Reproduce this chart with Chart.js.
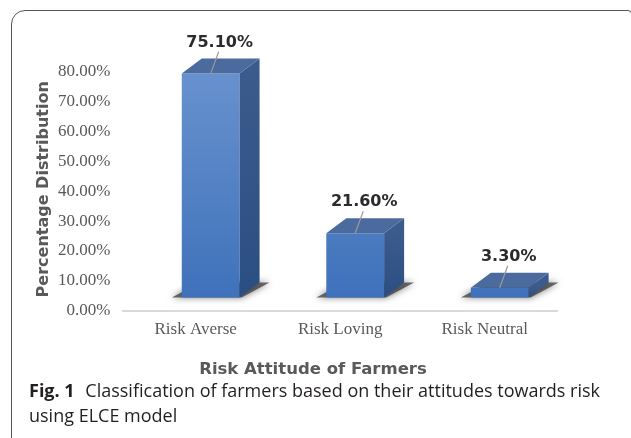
<!DOCTYPE html>
<html>
<head>
<meta charset="utf-8">
<script src="https://cdn.jsdelivr.net/npm/chart.js@4/dist/chart.umd.min.js"></script>
<style>
  html, body { margin: 0; padding: 0; background: #fff; }
  body { width: 631px; height: 438px; position: relative; overflow: hidden; }
  .frame {
    position: absolute; left: 11px; top: 10px; width: 621px; height: 440px;
    border: 1.5px solid #555; border-top-left-radius: 14px; border-top-right-radius: 4px;
    box-sizing: border-box;
  }
  #wrap { position: absolute; left: 0; top: 0; width: 631px; height: 385px; }
  .caption {
    position: absolute; left: 29px; top: 378px; width: 592px;
    font-family: "Open Sans", "Noto Sans", sans-serif; font-size: 18px; line-height: 25px;
    color: #231f20; letter-spacing: 0;
  }
  .caption b { font-weight: 700; margin-right: 6px; }
</style>
</head>
<body>
<div class="frame"></div>
<div id="wrap"><canvas id="riskChart"></canvas></div>
<div class="caption"><b>Fig. 1</b> Classification of farmers based on their attitudes towards risk using ELCE model</div>
<script>
// Risk attitude of farmers
const categories = ['Risk Averse', 'Risk Loving', 'Risk Neutral'];
const shares = [75.10, 21.60, 3.30];
const yTicks = [0, 10, 20, 30, 40, 50, 60, 70, 80];

// fake 3D look: shift, depth faces, floor shadow, labels with leader lines
const bars3d = {
  id: 'bars3d',
  beforeDatasetsDraw(chart) {
    const c = chart.ctx;
    const meta = chart.getDatasetMeta(0);
    c.save();
    c.translate(15, -13);
    meta.data.forEach(bar => {
      const x0 = bar.x - bar.width / 2, x1 = bar.x + bar.width / 2, yb = bar.base;
      c.save();
      c.shadowColor = 'rgba(0,0,0,0.7)';
      c.shadowBlur = 7;
      c.fillStyle = 'rgba(60,60,60,0.75)';
      c.beginPath();
      c.moveTo(x0 - 10, yb);
      c.lineTo(x1 + 2, yb);
      c.lineTo(x1 + 30, yb - 15);
      c.lineTo(x0 + 18, yb - 15);
      c.closePath();
      c.fill();
      c.restore();
    });
  },
  afterDatasetsDraw(chart) {
    const c = chart.ctx;
    const meta = chart.getDatasetMeta(0);
    const dx = 20, dy = -15;
    meta.data.forEach((bar, i) => {
      const x0 = bar.x - bar.width / 2, x1 = bar.x + bar.width / 2;
      const yt = bar.y, yb = bar.base;
      // right face
      let g = c.createLinearGradient(0, yt, 0, yb);
      g.addColorStop(0, '#3b5b8c');
      g.addColorStop(1, '#2b4e82');
      c.fillStyle = g;
      c.beginPath();
      c.moveTo(x1, yt);
      c.lineTo(x1 + dx, yt + dy);
      c.lineTo(x1 + dx, yb + dy);
      c.lineTo(x1, yb);
      c.closePath();
      c.fill();
      // top face
      c.fillStyle = '#4b6a9d';
      c.beginPath();
      c.moveTo(x0, yt);
      c.lineTo(x1, yt);
      c.lineTo(x1 + dx, yt + dy);
      c.lineTo(x0 + dx, yt + dy);
      c.closePath();
      c.fill();
      // label + leader line
      const lx = bar.x + 9, ly = yt + dy - 16;
      c.strokeStyle = '#9a9a9a';
      c.lineWidth = 1.2;
      c.beginPath();
      c.moveTo(bar.x, yt);
      c.lineTo(lx - 1, ly + 9);
      c.stroke();
      c.fillStyle = '#2b2b2b';
      c.font = 'bold 16px "DejaVu Sans"';
      c.textAlign = 'center';
      c.textBaseline = 'middle';
      c.fillText(shares[i].toFixed(2) + '%', lx, ly);
    });
    c.restore();
  },
  afterDraw(chart) {
    // axis titles drawn by hand, placed like the original figure
    const c = chart.ctx, a = chart.chartArea;
    c.save();
    c.fillStyle = '#595959';
    c.textAlign = 'center';
    c.textBaseline = 'middle';
    c.font = 'bold 16.5px "DejaVu Sans"';
    c.fillText('Risk Attitude of Farmers', 313, a.bottom + 59);
    c.translate(44, (a.top + a.bottom) / 2 - 2);
    c.rotate(-Math.PI / 2);
    c.font = 'bold 16px "DejaVu Sans"';
    c.fillText('Percentage Distribution', 0, 0);
    c.restore();
  }
};

const ctx = document.getElementById('riskChart').getContext('2d');
new Chart(ctx, {
  type: 'bar',
  data: {
    labels: categories,
    datasets: [{
      label: 'Percentage',
      data: shares,
      clip: false,
      categoryPercentage: 1,
      barPercentage: 0.4,
      backgroundColor: (context) => {
        const area = context.chart.chartArea;
        if (!area) return '#5283c6';
        const g = context.chart.ctx.createLinearGradient(0, area.top, 0, area.bottom);
        g.addColorStop(0, '#6a93cf');
        g.addColorStop(1, '#3f72bb');
        return g;
      }
    }]
  },
  options: {
    responsive: true,
    maintainAspectRatio: false,
    animation: false,
    layout: { padding: { left: 45, top: 72, right: 74, bottom: 36 } },
    plugins: { legend: { display: false }, tooltip: { enabled: false } },
    scales: {
      x: {
        grid: { display: false, drawTicks: false },
        border: { display: true, color: '#d9d9d9', width: 2 },
        ticks: { color: '#595959', padding: 9, font: { family: '"Liberation Serif"', size: 17 } }
      },
      y: {
        min: 0, max: 80,
        afterBuildTicks: (scale) => { scale.ticks = yTicks.map(v => ({ value: v })); },
        grid: { display: false, drawTicks: false },
        border: { display: false },
        ticks: {
          color: '#595959', padding: 13,
          font: { family: '"Liberation Serif"', size: 17 },
          callback: (v) => v.toFixed(2) + '%'
        }
      }
    }
  },
  plugins: [bars3d]
});
</script>
</body>
</html>
